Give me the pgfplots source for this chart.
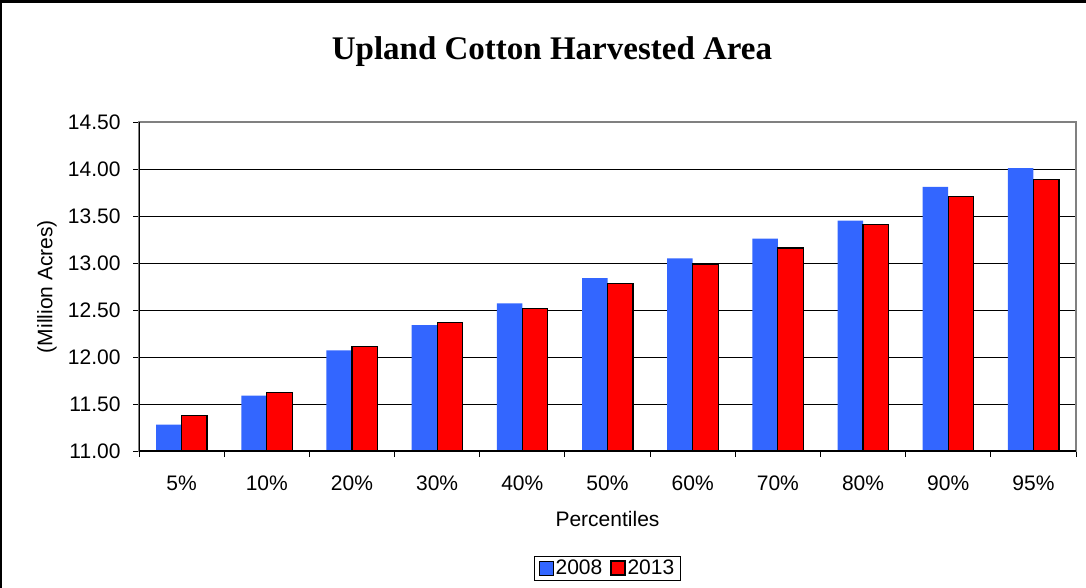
\documentclass[border=0pt]{standalone}
\usepackage{fontspec}
\setmainfont{Liberation Sans}
\newfontfamily\titlefont{Liberation Serif}
\usepackage{pgfplots}
\pgfplotsset{compat=1.18}
\definecolor{barblue}{HTML}{3366FF}
\definecolor{barred}{HTML}{FF0000}
\begin{document}
\begin{tikzpicture}
\path[use as bounding box] (0,0) rectangle (1086pt,-588pt);
\draw[line width=2.5pt] (1pt,-1.5pt) rectangle (1100pt,-600pt);
\node[font=\titlefont\bfseries\fontsize{33}{38}\selectfont] at (552pt,-52pt) {Upland Cotton Harvested Area};
\begin{axis}[
  at={(139pt,-451pt)}, anchor=south west,
  scale only axis, width=937pt, height=329pt,
  ybar=0pt, bar width=25.5pt,
  xmin=-0.5, xmax=10.5, ymin=11, ymax=14.5,
  xtick={0,1,2,3,4,5,6,7,8,9,10},
  xticklabels={5\%,10\%,20\%,30\%,40\%,50\%,60\%,70\%,80\%,90\%,95\%},
  major x tick style={draw=none},
  minor xtick={-0.5,0.5,1.5,2.5,3.5,4.5,5.5,6.5,7.5,8.5,9.5,10.5},
  ytick={11,11.5,12,12.5,13,13.5,14,14.5},
  tick align=outside, tick pos=left,
  major tick length=6pt, minor tick length=6pt,
  tick style={black, line width=1pt},
  /pgf/number format/assume math mode=true,
  tick label style={font=\fontsize{21}{25}\selectfont},
  xticklabel style={yshift=-15pt},
  yticklabel style={xshift=-9pt, /pgf/number format/.cd, fixed, fixed zerofill, precision=2},
  ymajorgrids, grid style={black, line width=0.8pt},
  axis line style={draw=gray, line width=1.2pt},
  xlabel={Percentiles}, ylabel={(Million Acres)},
  every axis x label/.style={at={(rel axis cs:0.5,0)}, yshift=-68pt, anchor=center, font=\fontsize{21}{25}\selectfont},
  every axis y label/.style={at={(rel axis cs:0,0.5)}, xshift=-92pt, anchor=center, rotate=90, font=\fontsize{21}{25}\selectfont},
  legend style={at={(rel axis cs:0.5,0)}, anchor=center, yshift=-117pt,
    legend columns=2, draw=black, line width=0.8pt, inner xsep=4pt, inner ysep=2pt,
    font=\fontsize{21}{25}\selectfont,
    /tikz/every even column/.append style={column sep=6pt}},
  legend image code/.code={\draw[#1] (0pt,-7pt) rectangle (14pt,7pt);},
]
\addplot[fill=barblue, draw=none] coordinates {
(0,11.28) (1,11.59) (2,12.07) (3,12.34) (4,12.57) (5,12.84) (6,13.05) (7,13.26) (8,13.45) (9,13.81) (10,14.01)};
\addplot[fill=barred, draw=black, line width=1.2pt] coordinates {
(0,11.38) (1,11.62) (2,12.11) (3,12.37) (4,12.52) (5,12.78) (6,12.99) (7,13.16) (8,13.41) (9,13.71) (10,13.89)};
\legend{2008,2013}
\draw[black, line width=1.2pt] (rel axis cs:0,1) -- (rel axis cs:0,0) -- (rel axis cs:1,0);
\end{axis}
\end{tikzpicture}
\end{document}
